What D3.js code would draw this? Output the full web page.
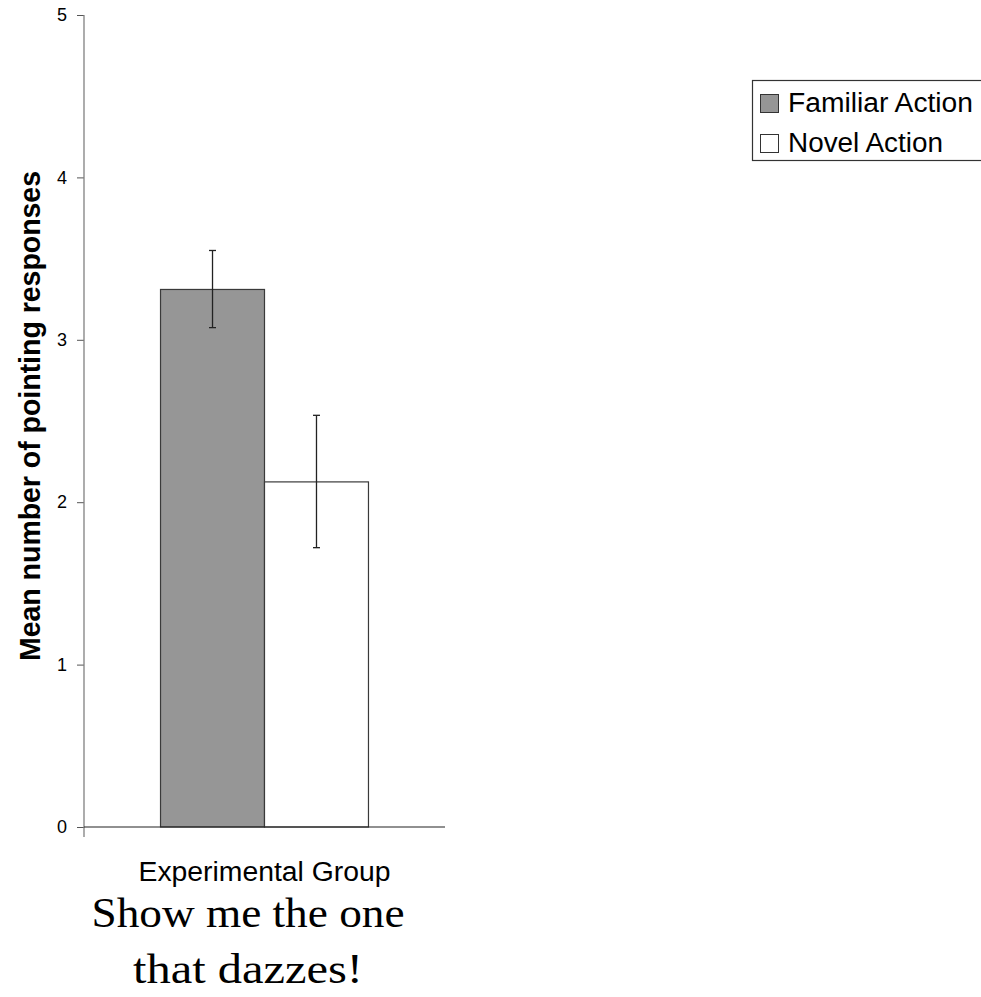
<!DOCTYPE html>
<html><head><meta charset="utf-8">
<script src="https://cdn.jsdelivr.net/npm/d3@7"></script>
<style>body{margin:0;background:#fff}svg{display:block}</style>
</head><body>
<script>
const categories = ["Experimental Group"];
const seriesNames = ["Familiar Action", "Novel Action"];
const seriesColors = ["#969696", "#ffffff"];
const means = [3.31, 2.125];
const errLow = [3.075, 1.72];
const errHigh = [3.55, 2.535];
const yTicks = [0, 1, 2, 3, 4, 5];
const yTitle = "Mean number of pointing responses";
const caption = ["Show me the one", "that dazzes!"];

const W = 981, H = 997;
const svg = d3.select("body").append("svg").attr("width", W).attr("height", H);

const plot = {left: 84, right: 445, top: 15, bottom: 827};
const y = d3.scaleLinear().domain([0, 5]).range([plot.bottom, plot.top]);
const x0 = d3.scaleBand().domain(categories).range([plot.left, plot.right]).paddingInner(0).paddingOuter(0.368);
const x1 = d3.scaleBand().domain(seriesNames).range([0, x0.bandwidth()]);
const SANS = "Arial, 'Liberation Sans', sans-serif";

// bars
const g = svg.append("g");
categories.forEach(c => {
  seriesNames.forEach((s, i) => {
    const bx = x0(c) + x1(s);
    g.append("rect")
      .attr("x", bx).attr("y", y(means[i]))
      .attr("width", x1.bandwidth()).attr("height", y(0) - y(means[i]))
      .attr("fill", seriesColors[i]).attr("stroke", "#3a3a3a").attr("stroke-width", 1.2);
  });
});
// error bars
categories.forEach(c => {
  seriesNames.forEach((s, i) => {
    const cx = x0(c) + x1(s) + x1.bandwidth() / 2;
    const eg = g.append("g").attr("stroke", "#222").attr("stroke-width", 1.3);
    eg.append("line").attr("x1", cx).attr("x2", cx).attr("y1", y(errHigh[i])).attr("y2", y(errLow[i]));
    eg.append("line").attr("x1", cx - 3.5).attr("x2", cx + 3.5).attr("y1", y(errHigh[i])).attr("y2", y(errHigh[i]));
    eg.append("line").attr("x1", cx - 3.5).attr("x2", cx + 3.5).attr("y1", y(errLow[i])).attr("y2", y(errLow[i]));
  });
});

// y axis
const yAxis = d3.axisLeft(y).tickValues(yTicks).tickFormat(d3.format("d")).tickSize(7).tickPadding(10);
const ya = svg.append("g").attr("transform", `translate(${plot.left},0)`).call(yAxis);
ya.select(".domain").remove();
ya.selectAll(".tick line").attr("stroke", "#555");
ya.selectAll(".tick text").attr("font-family", SANS).attr("font-size", 18).attr("fill", "#000");
svg.append("line").attr("x1", plot.left).attr("x2", plot.left).attr("y1", y(5)).attr("y2", y(0) + 10)
  .attr("stroke", "#808080").attr("stroke-width", 1.3);
// x axis
svg.append("line").attr("x1", plot.left).attr("x2", plot.right).attr("y1", y(0)).attr("y2", y(0))
  .attr("stroke", "#222").attr("stroke-width", 1.2);

// category label
svg.append("text").attr("x", x0(categories[0]) + x0.bandwidth() / 2).attr("y", 881)
  .attr("text-anchor", "middle").attr("font-family", SANS)
  .attr("font-size", 27).attr("textLength", 252).attr("lengthAdjust", "spacingAndGlyphs")
  .text(categories[0]);

// y title
svg.append("text").attr("transform", `translate(40,416) rotate(-90)`)
  .attr("text-anchor", "middle").attr("font-family", SANS)
  .attr("font-weight", "bold").attr("font-size", 29).attr("textLength", 490).attr("lengthAdjust", "spacingAndGlyphs")
  .text(yTitle);

// caption
const capW = [313, 230];
caption.forEach((t, i) => {
  svg.append("text").attr("x", 248).attr("y", 927 + i * 56)
    .attr("text-anchor", "middle").attr("font-family", "'Times New Roman', 'Liberation Serif', serif")
    .attr("font-size", 43).attr("textLength", capW[i]).attr("lengthAdjust", "spacingAndGlyphs")
    .text(t);
});

// legend
const lg = svg.append("g");
lg.append("rect").attr("x", 752.5).attr("y", 80.5).attr("width", 260).attr("height", 80)
  .attr("fill", "#fff").attr("stroke", "#333").attr("stroke-width", 1.2);
const legW = [185, 155];
seriesNames.forEach((s, i) => {
  const yy = 94 + i * 40;
  lg.append("rect").attr("x", 760.5).attr("y", yy + 0.5).attr("width", 18).attr("height", 18)
    .attr("fill", seriesColors[i]).attr("stroke", "#333").attr("stroke-width", 1);
  lg.append("text").attr("x", 788).attr("y", yy + 18)
    .attr("font-family", SANS).attr("font-size", 27)
    .attr("textLength", legW[i]).attr("lengthAdjust", "spacingAndGlyphs").text(s);
});
</script>
</body></html>
